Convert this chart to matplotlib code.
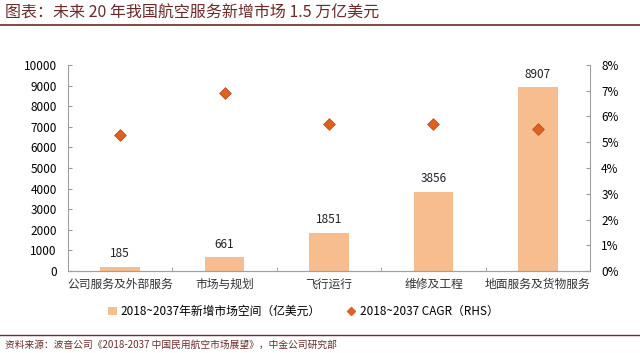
import matplotlib
matplotlib.use("Agg")
import matplotlib.pyplot as plt
from matplotlib.lines import Line2D
from matplotlib.patches import Patch
import numpy as np

plt.rcParams["font.family"] = ["Noto Sans CJK SC", "DejaVu Sans"]

# ---- DATA ----
categories = ["公司服务及外部服务", "市场与规划", "飞行运行", "维修及工程", "地面服务及货物服务"]
market_size = [185, 661, 1851, 3856, 8907]      # 亿美元
cagr = [5.3, 6.9, 5.7, 5.7, 5.5]                # %

BAR_COLOR = "#F8BD8E"
DOT_COLOR = "#E0601F"
DARK_RED = "#6B2B2B"

fig = plt.figure(figsize=(6.4, 3.53), dpi=100)
ax = fig.add_axes([0.106, 0.232, 0.816, 0.584])

x = np.arange(len(categories))
ax.bar(x, market_size, width=0.38, color=BAR_COLOR, zorder=2)
for xi, v in zip(x, market_size):
    ax.annotate(str(v), (xi, v), xytext=(0, 5), textcoords="offset points",
                ha="center", va="bottom", fontsize=8.5, color="#222222")

ax.set_xlim(-0.5, len(categories) - 0.5)
ax.set_ylim(0, 10000)
ax.set_yticks(range(0, 10001, 1000))
ax.set_xticks(x)
ax.set_xticklabels(categories, fontsize=8.5, color="#333333")
ax.set_xticks(np.arange(0.5, len(categories) - 1, 1), minor=True)
ax.tick_params(axis="x", which="major", length=0, pad=5)
ax.tick_params(axis="x", which="minor", length=3, direction="in", color="#999999")
ax.tick_params(axis="y", direction="in", length=3, color="#999999", labelsize=8.5, pad=8)

ax2 = ax.twinx()
ax2.scatter(x, cagr, marker="D", s=36, color=DOT_COLOR, edgecolor="#B04A18", linewidth=0.5, zorder=3)
ax2.set_ylim(0, 8)
ax2.set_yticks(range(0, 9))
ax2.set_yticklabels([f"{i}%" for i in range(0, 9)])
ax2.tick_params(axis="y", direction="in", length=3, color="#999999", labelsize=8.5, pad=8)

for a in (ax, ax2):
    a.spines["top"].set_visible(False)
    for s in ("left", "right", "bottom"):
        a.spines[s].set_color("#A0A0A0")
        a.spines[s].set_linewidth(0.8)
ax.spines["right"].set_visible(False)
ax2.spines["left"].set_visible(False)

# ---- LEGEND ----
handles = [
    Patch(facecolor=BAR_COLOR, edgecolor="none", label="2018~2037年新增市场空间（亿美元）"),
    Line2D([], [], marker="D", linestyle="none", markersize=4, color=DOT_COLOR,
           label="2018~2037 CAGR（RHS）"),
]
fig.legend(handles=handles, loc="center left", bbox_to_anchor=(0.168, 0.117), ncol=2,
           frameon=False, fontsize=8.5, handlelength=0.8, handletextpad=0.3,
           columnspacing=2.2, borderaxespad=0, borderpad=0)

# ---- TITLE / SOURCE ----
fig.text(0.008, 0.962, "图表：未来 20 年我国航空服务新增市场 1.5 万亿美元",
         fontsize=11.5, color=DARK_RED, ha="left", va="center")
fig.add_artist(Line2D([0.0, 1.0], [0.93, 0.93], color=DARK_RED, linewidth=1.2))
fig.add_artist(Line2D([0.0, 1.0], [0.052, 0.052], color=DARK_RED, linewidth=1.0))
fig.text(0.008, 0.022, "资料来源：波音公司《2018-2037 中国民用航空市场展望》，中金公司研究部",
         fontsize=7, color=DARK_RED, ha="left", va="center")

fig.savefig("out.png", dpi=100)
